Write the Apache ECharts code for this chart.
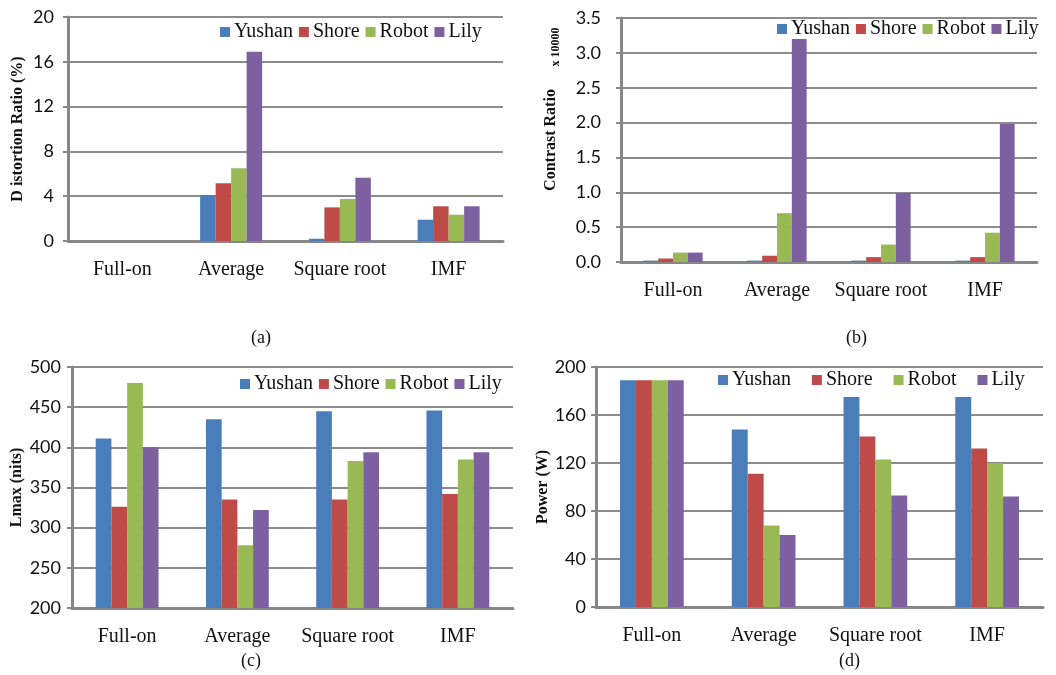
<!DOCTYPE html>
<html>
<head>
<meta charset="utf-8">
<script src="https://cdn.jsdelivr.net/npm/echarts@6/dist/echarts.min.js"></script>
<style>
  html, body { margin: 0; padding: 0; background: #ffffff; }
  #chart { width: 1056px; height: 675px; }
</style>
</head>
<body>
<div id="chart"></div>
<script>
// Methods compared and the four test images
const methods = ['Full-on', 'Average', 'Square root', 'IMF'];
const images = ['Yushan', 'Shore', 'Robot', 'Lily'];
const colors = ['#4a7ebb', '#be4b48', '#98b954', '#7d60a0'];

// (a) Distortion ratio (%), one array per image, ordered by method
const distYushan = [0, 4.1, 0.2, 1.9];
const distShore  = [0, 5.15, 3.0, 3.1];
const distRobot  = [0, 6.5, 3.75, 2.35];
const distLily   = [0, 16.9, 5.65, 3.1];

// (b) Contrast ratio (x10000)
const crYushan = [0.02, 0.02, 0.02, 0.02];
const crShore  = [0.05, 0.09, 0.07, 0.07];
const crRobot  = [0.135, 0.70, 0.25, 0.42];
const crLily   = [0.135, 3.22, 0.99, 1.98];

// (c) Lmax (nits)
const lmaxYushan = [411, 435, 445, 446];
const lmaxShore  = [326, 335, 335, 342];
const lmaxRobot  = [480, 278, 383, 385];
const lmaxLily   = [400, 322, 394, 394];

// (d) Power (W)
const powYushan = [189, 148, 175, 175];
const powShore  = [189, 111, 142, 132];
const powRobot  = [189, 68, 123, 120];
const powLily   = [189, 60, 93, 92];

// Axis ticks
const distTicks = { min: 0, max: 20, interval: 4 };
const crTicks   = { min: 0, max: 3.5, interval: 0.5 };
const lmaxTicks = { min: 200, max: 500, interval: 50 };
const powTicks  = { min: 0, max: 200, interval: 40 };

const panels = [
  { data: [distYushan, distShore, distRobot, distLily], ticks: distTicks, name: 'D istortion Ratio (%)',
    grid: { left: 68, top: 17, width: 435, height: 224 }, nameGap: 42, labelMargin: 14, dec: 0,
    legend: { left: 220, top: 22, itemGap: 6 }, caption: { text: '(a)', x: 262, y: 340 } },
  { data: [crYushan, crShore, crRobot, crLily], ticks: crTicks, name: 'Contrast Ratio',
    grid: { left: 621, top: 18, width: 416, height: 244 }, nameGap: 62, labelMargin: 20, dec: 1,
    legend: { left: 777, top: 19, itemGap: 6 }, caption: { text: '(b)', x: 857, y: 340 } },
  { data: [lmaxYushan, lmaxShore, lmaxRobot, lmaxLily], ticks: lmaxTicks, name: 'Lmax (nits)',
    grid: { left: 72, top: 367, width: 441, height: 241 }, nameGap: 47, labelMargin: 11, dec: 0,
    legend: { left: 240, top: 374, itemGap: 6 }, caption: { text: '(c)', x: 252, y: 663 } },
  { data: [powYushan, powShore, powRobot, powLily], ticks: powTicks, name: 'Power (W)',
    grid: { left: 596, top: 367, width: 447, height: 240 }, nameGap: 43, labelMargin: 10, dec: 0,
    legend: { left: 718, top: 370, itemGap: 21 }, caption: { text: '(d)', x: 850, y: 663 } }
];

const axisGray = '#878787';
const serif = '"Liberation Serif", "Times New Roman", serif';
const sans = 'Lato, "Open Sans", sans-serif';

const option = {
  animation: false,
  backgroundColor: '#ffffff',
  grid: [], xAxis: [], yAxis: [], series: [], legend: [], graphic: []
};

panels.forEach((p, i) => {
  option.grid.push(Object.assign({ containLabel: false }, p.grid));
  option.xAxis.push({
    type: 'category', gridIndex: i, data: methods,
    axisLine: { lineStyle: { color: axisGray, width: 3 } },
    axisTick: { show: false },
    axisLabel: { interval: 0, color: '#111', fontFamily: serif, fontSize: 20, margin: 19 }
  });
  option.yAxis.push({
    type: 'value', gridIndex: i,
    min: p.ticks.min, max: p.ticks.max, interval: p.ticks.interval,
    name: p.name, nameLocation: 'middle', nameGap: p.nameGap, nameRotate: 90,
    nameTextStyle: { fontFamily: serif, fontWeight: 'bold', fontSize: 16, color: '#111' },
    axisLine: { show: true, lineStyle: { color: axisGray, width: 3 } },
    axisTick: { show: true, length: 5, lineStyle: { color: axisGray, width: 2 } },
    axisLabel: { color: '#111', fontFamily: sans, fontSize: 18, margin: p.labelMargin,
      formatter: v => v.toFixed(p.dec) },
    splitLine: { show: true, lineStyle: { color: '#8c8c8c', width: 2 } }
  });
  p.data.forEach((vals, s) => {
    option.series.push({
      type: 'bar', name: images[s], xAxisIndex: i, yAxisIndex: i, data: vals,
      itemStyle: { color: colors[s] },
      barGap: '0%', barCategoryGap: '43%'
    });
  });
  option.legend.push({
    data: images, left: p.legend.left, top: p.legend.top, padding: 0,
    itemGap: p.legend.itemGap, itemWidth: 10, itemHeight: 10, icon: 'rect',
    textStyle: { fontFamily: serif, fontSize: 20, color: '#111', padding: [0, 0, 0, -1] },
    backgroundColor: i === 1 ? '#ffffff' : 'transparent'
  });
  option.graphic.push({
    type: 'text', left: p.caption.x - 11, top: p.caption.y - 11,
    style: { text: p.caption.text, font: '18px ' + serif, fill: '#111' }
  });
});

// Scale note for the contrast ratio axis
option.graphic.push({
  type: 'text', x: 556, y: 47, rotation: Math.PI / 2,
  style: { text: 'x 10000', font: 'bold 12px ' + serif, fill: '#111', align: 'center', verticalAlign: 'middle' }
});

const chart = echarts.init(document.getElementById('chart'), null, { renderer: 'canvas' });
chart.setOption(option);
</script>
</body>
</html>
